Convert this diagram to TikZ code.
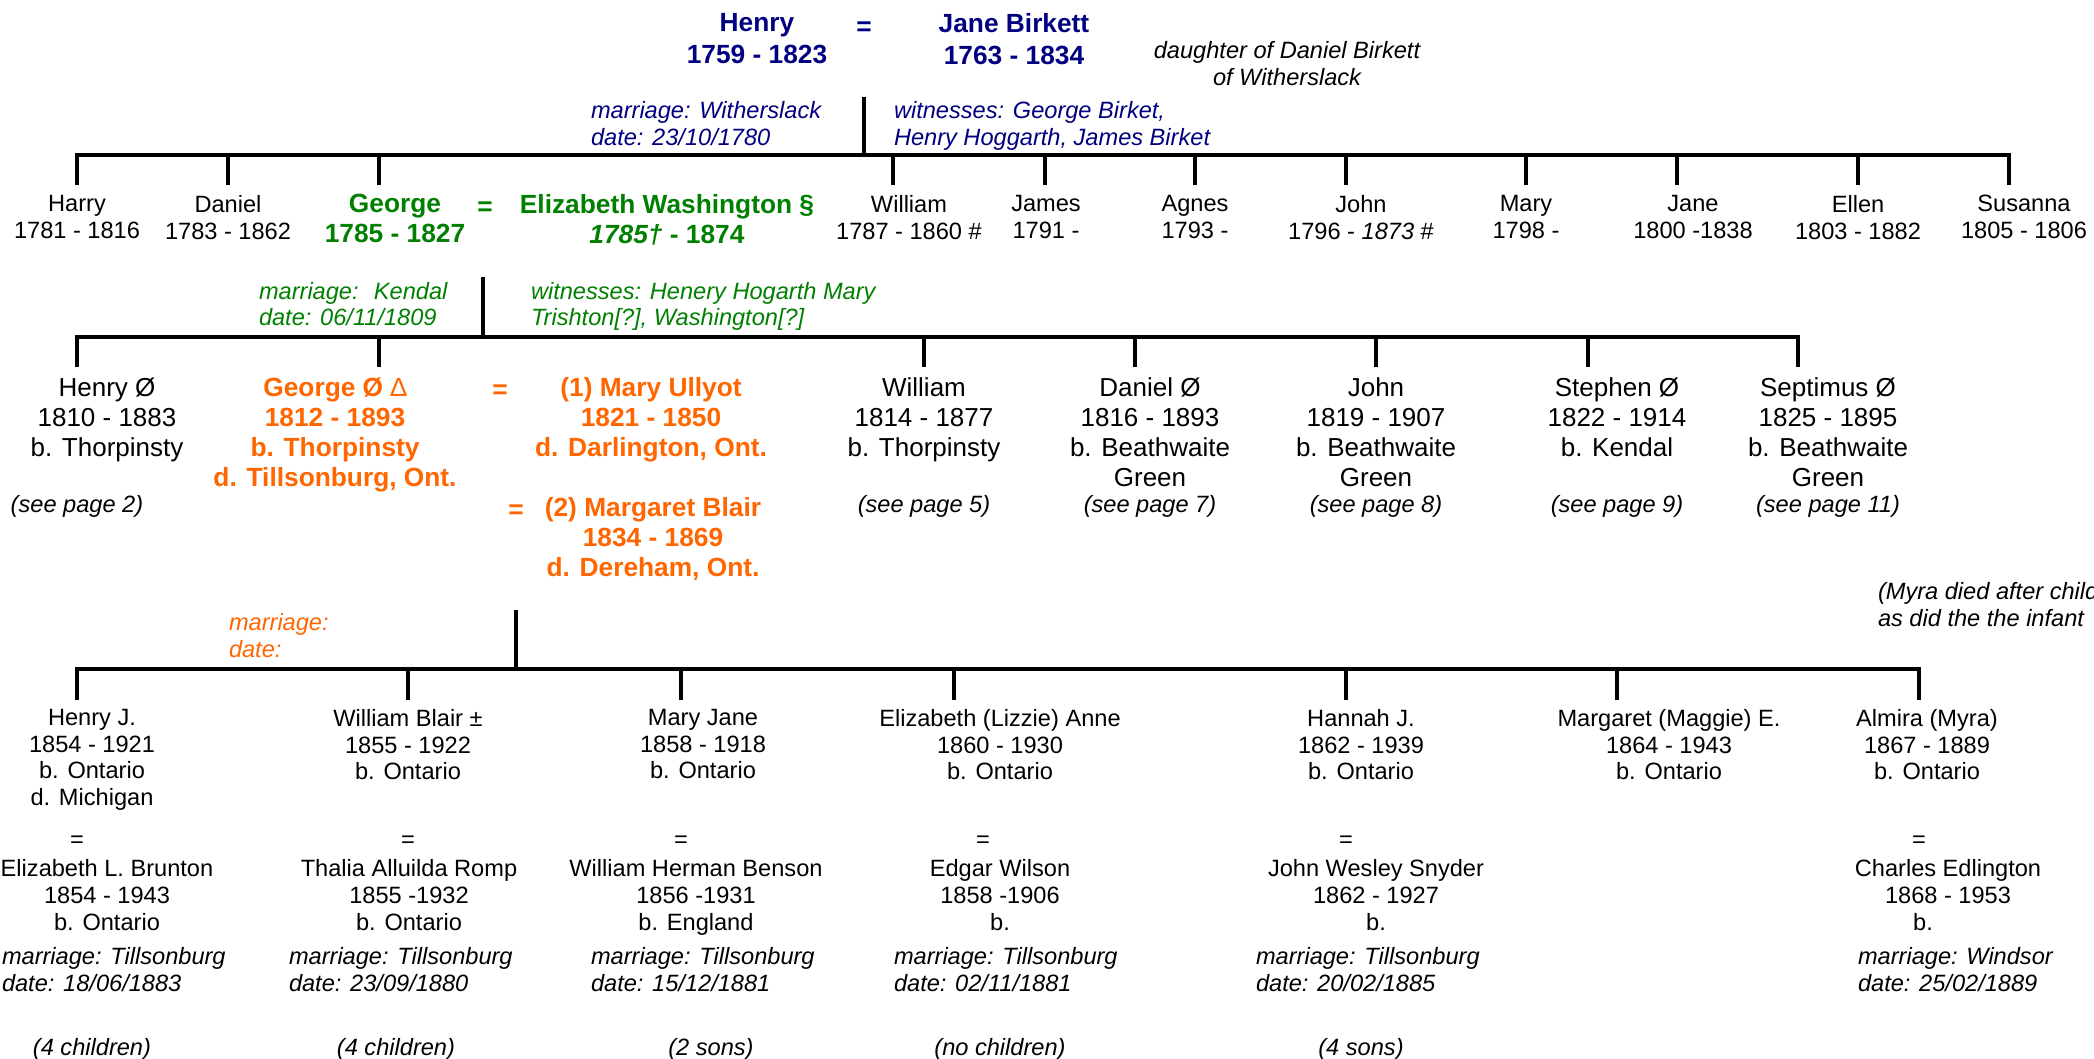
\documentclass[tikz,border=0pt]{standalone}
\usepackage{fontspec}
\setmainfont{Liberation Sans}
\definecolor{navy}{RGB}{0,0,128}
\definecolor{dgreen}{RGB}{0,128,0}
\definecolor{orng}{RGB}{255,102,0}
\begin{document}
\begin{tikzpicture}[x=1pt,y=-1pt,
  txt/.style n args={3}{inner sep=0pt, outer sep=0pt, anchor=north,
     font=\fontsize{#1}{#2}\selectfont#3, yshift={0.7*#2*1pt},
     execute at begin node=\strut},
  top/.style={txt={26.3}{32}{\bfseries}, align=center, text=navy},
  c1/.style={txt={23.6}{27}{}, align=center},
  g1/.style={txt={26.3}{30}{\bfseries}, align=center, text=dgreen},
  c2/.style={txt={26}{30}{}, align=center},
  o2/.style={txt={26.3}{30}{\bfseries}, align=center, text=orng},
  c3/.style={txt={23.6}{26.7}{}, align=center},
  notec/.style={txt={23.6}{#1}{\itshape}, align=center},
  notec/.default=26.7,
  notel/.style={txt={23.6}{#1}{\itshape}, align=left, anchor=north west},
  notel/.default=26.7,
  bar/.style={line width=4pt, line cap=rect},
  stem/.style={line width=3.3pt}
]
\useasboundingbox (0,0) rectangle (2094,1059);
\fill[white] (0,0) rectangle (2094,1059);

% ---------- top couple ----------
\node[top] (henry) at (757,36) {Henry\\1759 - 1823};
\node[top] (eqtop) at (864,36) {=};
\node[top] (jane) at (1014,36) {Jane Birkett\\1763 - 1834};
\node[notec=27] (dau) at (1287,60) {daughter of Daniel Birkett\\of Witherslack};
\node[notel=27, text=navy] (m1) at (591,120) {marriage: Witherslack\\date: 23/10/1780};
\node[notel=27, text=navy] (w1) at (894,120) {witnesses: George Birket,\\Henry Hoggarth, James Birket};

\coordinate (p1) at (864,97);
\coordinate (b1l) at (77,155);
\coordinate (b1r) at (2009,155);
\draw[bar] (b1l) -- (b1r);
\draw[stem] (p1) -- (p1 |- b1l);
\foreach \x [count=\i] in {77,228,379,893,1045,1195,1346,1526,1677,1858,2009}{
  \coordinate (k1-\i) at (\x,185);
  \draw[stem] (k1-\i |- b1l) -- (k1-\i);
}

% ---------- generation 1 ----------
\node[c1] (harry) at (77,214) {Harry\\1781 - 1816};
\node[c1] (daniel) at (228,214) {Daniel\\1783 - 1862};
\node[g1] (george) at (395,215.5) {George\\1785 - 1827};
\node[g1] (eq1) at (485,215.5) {=};
\node[g1] (eliz) at (667,215.5) {Elizabeth Washington §\\\textit{1785†} - 1874};
\node[c1] (william) at (909,214) {William\\1787 - 1860 \#};
\node[c1] (james) at (1046,214) {James\\1791 -};
\node[c1] (agnes) at (1195,214) {Agnes\\1793 -};
\node[c1] (john) at (1361,214) {John\\1796 - \textit{1873} \#};
\node[c1] (mary) at (1526,214) {Mary\\1798 -};
\node[c1] (jane2) at (1693,214) {Jane\\1800 -1838};
\node[c1] (ellen) at (1858,214) {Ellen\\1803 - 1882};
\node[c1] (susanna) at (2024,214) {Susanna\\1805 - 1806};

\node[notel=26, text=dgreen] (m2) at (259,301) {marriage:~ Kendal\\date: 06/11/1809};
\node[notel=26, text=dgreen] (w2) at (531,301) {witnesses: Henery Hogarth Mary\\Trishton[?], Washington[?]};

\coordinate (p2) at (483,277);
\coordinate (b2l) at (77,337);
\coordinate (b2r) at (1798,337);
\draw[bar] (b2l) -- (b2r);
\draw[stem] (p2) -- (p2 |- b2l);
\foreach \x [count=\i] in {77,379,924,1135,1376,1588,1798}{
  \coordinate (k2-\i) at (\x,367);
  \draw[stem] (k2-\i |- b2l) -- (k2-\i);
}

% ---------- generation 2 ----------
\node[c2] (henry2) at (107,398.5) {Henry Ø\\1810 - 1883\\b. Thorpinsty};
\node[o2] (george2) at (335,398.5) {George Ø {\mdseries ∆}\\1812 - 1893\\b. Thorpinsty\\d. Tillsonburg, Ont.};
\node[o2] (eq2) at (500,398.5) {=};
\node[o2] (mary2) at (651,398.5) {(1) Mary Ullyot\\1821 - 1850\\d. Darlington, Ont.};
\node[o2] (eq3) at (516,518.5) {=};
\node[o2] (marg) at (653,518.5) {(2) Margaret Blair\\1834 - 1869\\d. Dereham, Ont.};
\node[c2] (william2) at (924,398.5) {William\\1814 - 1877\\b. Thorpinsty};
\node[c2] (daniel2) at (1150,398.5) {Daniel Ø\\1816 - 1893\\b. Beathwaite\\Green};
\node[c2] (john2) at (1376,398.5) {John\\1819 - 1907\\b. Beathwaite\\Green};
\node[c2] (stephen) at (1617,398.5) {Stephen Ø\\1822 - 1914\\b. Kendal};
\node[c2] (septimus) at (1828,398.5) {Septimus Ø\\1825 - 1895\\b. Beathwaite\\Green};

\node[notec] (sp2) at (77,512) {(see page 2)};
\node[notec] (sp5) at (924,512) {(see page 5)};
\node[notec] (sp7) at (1150,512) {(see page 7)};
\node[notec] (sp8) at (1376,512) {(see page 8)};
\node[notec] (sp9) at (1617,512) {(see page 9)};
\node[notec] (sp11) at (1828,512) {(see page 11)};

\node[notel=27] (myra) at (1878,601) {(Myra died after child\\as did the the infant};
\node[notel=26.5, text=orng] (m3) at (229,632) {marriage:\\date:};

\coordinate (p3) at (516,610);
\coordinate (b3l) at (77,669);
\coordinate (b3r) at (1919,669);
\draw[bar] (b3l) -- (b3r);
\draw[stem] (p3) -- (p3 |- b3l);
\foreach \x [count=\i] in {77,408,681,954,1346,1617,1919}{
  \coordinate (k3-\i) at (\x,700);
  \draw[stem] (k3-\i |- b3l) -- (k3-\i);
}

% ---------- generation 3 ----------
\node[c3] (hj) at (92,728) {Henry J.\\1854 - 1921\\b. Ontario\\d. Michigan};
\node[c3] (wb) at (408,728) {William Blair ±\\1855 - 1922\\b. Ontario};
\node[c3] (mj) at (703,728) {Mary Jane\\1858 - 1918\\b. Ontario};
\node[c3] (ea) at (1000,728) {Elizabeth (Lizzie) Anne\\1860 - 1930\\b. Ontario};
\node[c3] (hn) at (1361,728) {Hannah J.\\1862 - 1939\\b. Ontario};
\node[c3] (mg) at (1669,728) {Margaret (Maggie) E.\\1864 - 1943\\b. Ontario};
\node[c3] (am) at (1927,728) {Almira (Myra)\\1867 - 1889\\b. Ontario};

\node[c3] (e1) at (77,847.5) {=};
\node[c3] (e2) at (408,847.5) {=};
\node[c3] (e3) at (681,847.5) {=};
\node[c3] (e4) at (983,847.5) {=};
\node[c3] (e5) at (1346,847.5) {=};
\node[c3] (e6) at (1919,847.5) {=};

\node[c3] (s1) at (107,878.5) {Elizabeth L. Brunton\\1854 - 1943\\b. Ontario};
\node[c3] (s2) at (409,878.5) {Thalia Alluilda Romp\\1855 -1932\\b. Ontario};
\node[c3] (s3) at (696,878.5) {William Herman Benson\\1856 -1931\\b. England};
\node[c3] (s4) at (1000,878.5) {Edgar Wilson\\1858 -1906\\b.};
\node[c3] (s5) at (1376,878.5) {John Wesley Snyder\\1862 - 1927\\b.};
\node[c3] (s6) at (1948,878.5) {Charles Edlington\\1868 - 1953\\b.\hspace*{50pt}};

\node[notel] (mm1) at (2,966.5) {marriage: Tillsonburg\\date: 18/06/1883};
\node[notel] (mm2) at (289,966.5) {marriage: Tillsonburg\\date: 23/09/1880};
\node[notel] (mm3) at (591,966.5) {marriage: Tillsonburg\\date: 15/12/1881};
\node[notel] (mm4) at (894,966.5) {marriage: Tillsonburg\\date: 02/11/1881};
\node[notel] (mm5) at (1256,966.5) {marriage: Tillsonburg\\date: 20/02/1885};
\node[notel] (mm6) at (1858,966.5) {marriage: Windsor\\date: 25/02/1889};

\node[notec] (n1) at (92,1055) {(4 children)};
\node[notec] (n2) at (396,1055) {(4 children)};
\node[notec] (n3) at (711,1055) {(2 sons)};
\node[notec] (n4) at (1000,1055) {(no children)};
\node[notec] (n5) at (1361,1055) {(4 sons)};
\end{tikzpicture}
\end{document}
